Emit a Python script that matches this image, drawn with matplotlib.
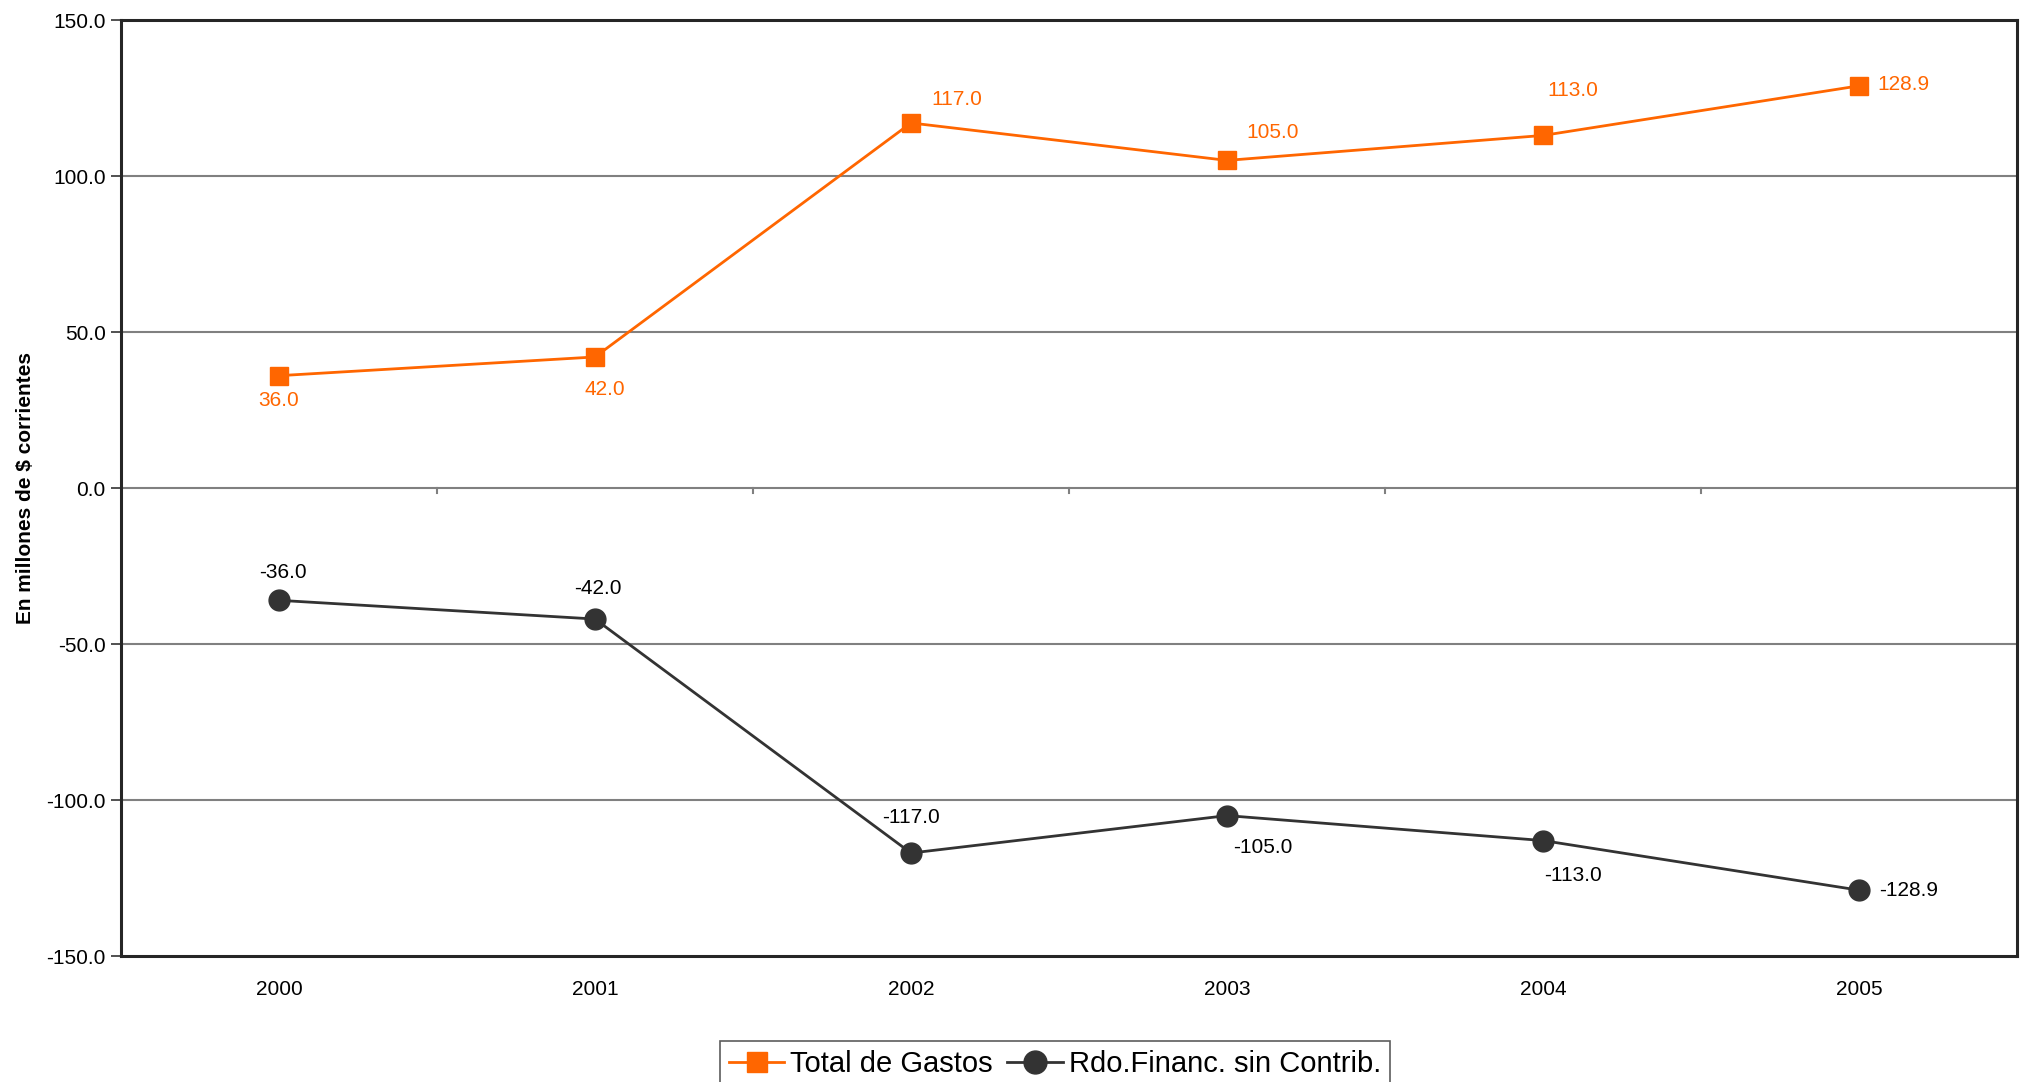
import matplotlib
matplotlib.use("Agg")
import matplotlib.pyplot as plt

plt.rcParams['font.family'] = ['Liberation Sans', 'DejaVu Sans']

years = ["2000", "2001", "2002", "2003", "2004", "2005"]
total_gastos = [36.0, 42.0, 117.0, 105.0, 113.0, 128.9]
rdo_financ = [-36.0, -42.0, -117.0, -105.0, -113.0, -128.9]
yticks = [-150, -100, -50, 0, 50, 100, 150]

orange = '#FF6600'
dark = '#333333'

fig = plt.figure(figsize=(20.22, 10.82), dpi=100)
ax = fig.add_axes([121/2022, 1-956/1082, (2017-121)/2022, (956-20)/1082])

x = list(range(len(years)))
ax.plot(x, total_gastos, color=orange, lw=2.0, marker='s', ms=13.5,
        mec=orange, mfc=orange, label='Total de Gastos', zorder=5)
ax.plot(x, rdo_financ, color=dark, lw=2.0, marker='o', ms=15,
        mec=dark, mfc=dark, label='Rdo.Financ. sin Contrib.', zorder=5)

ax.set_xlim(-0.5, len(years) - 0.5)
ax.set_ylim(-150, 150)
ax.set_yticks(yticks)
ax.set_yticklabels([f"{v:.1f}" for v in yticks])
ax.set_xticks(x)
ax.set_xticklabels(years)
ax.tick_params(axis='y', labelsize=15, length=7, width=1.2, color='#333333', pad=4)
ax.tick_params(axis='x', labelsize=15, length=0, pad=17)

for v in yticks[1:-1]:
    ax.axhline(v, color='#808080', lw=1.5, zorder=1)

# category boundary ticks on zero axis
for b in range(1, len(years)):
    ax.plot([b - 0.5, b - 0.5], [0, -1.6], color='#808080', lw=1.5, zorder=1)

for s in ax.spines.values():
    s.set_color('#262626')
    s.set_linewidth(2.2)

ax.set_ylabel('En millones de $ corrientes', fontsize=15, fontweight='bold')
ax.yaxis.set_label_coords(-0.0455, 0.5)

# data labels (offsets in pixels)
orange_off = [(0, -25, 'center', 'center'), (10, -33, 'center', 'center'),
              (46, 23, 'center', 'center'), (46, 28, 'center', 'center'),
              (30, 45, 'center', 'center'), (18, 1, 'left', 'center')]
dark_off = [(4, 28, 'center', 'center'), (3, 31, 'center', 'center'),
            (0, 36, 'center', 'center'), (36, -32, 'center', 'center'),
            (30, -35, 'center', 'center'), (20, 0, 'left', 'center')]

for i, v in enumerate(total_gastos):
    dx, dy, ha, va = orange_off[i]
    ax.annotate(f"{v:.1f}", (x[i], v), xytext=(dx, dy), textcoords='offset pixels',
                ha=ha, va=va, fontsize=15, color=orange)
for i, v in enumerate(rdo_financ):
    dx, dy, ha, va = dark_off[i]
    ax.annotate(f"{v:.1f}", (x[i], v), xytext=(dx, dy), textcoords='offset pixels',
                ha=ha, va=va, fontsize=15, color='black')

leg = fig.legend(loc='upper center', bbox_to_anchor=(1055/2022, 1-1041/1082),
                 ncol=2, fontsize=21, frameon=True, fancybox=False,
                 handlelength=1.9, handletextpad=0.2, columnspacing=0.5,
                 borderpad=0.3, borderaxespad=0, markerscale=1.1)
leg.get_frame().set_edgecolor('#333333')
leg.get_frame().set_linewidth(1.2)

fig.savefig('out.png', dpi=100)
